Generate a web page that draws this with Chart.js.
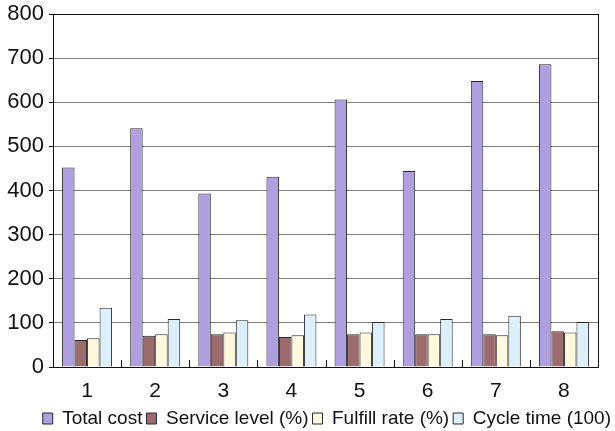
<!DOCTYPE html>
<html>
<head>
<meta charset="utf-8">
<script src="https://cdn.jsdelivr.net/npm/chart.js@4/dist/chart.umd.min.js"></script>
<style>
  html, body { margin: 0; padding: 0; background: #fff; }
  #wrap { width: 615px; height: 431px; position: relative; }
</style>
</head>
<body>
<div id="wrap"><canvas id="c"></canvas></div>
<script>
// Scenario indices
const categories = ['1', '2', '3', '4', '5', '6', '7', '8'];

// Series values per scenario
const totalCost    = [452, 541, 393, 431, 606, 444, 648, 686];
const serviceLevel = [61, 71, 74, 68, 74, 74, 74, 81];
const fulfillRate  = [65, 74, 78, 72, 78, 74, 72, 78];
const cycleTime    = [134, 109, 106, 119, 102, 109, 116, 102];

// Value axis
const yTicks = [0, 100, 200, 300, 400, 500, 600, 700, 800];

const FONT = 'Liberation Sans, Arial, Helvetica, sans-serif';

// Short inner tick marks between categories on the bottom axis
const catTicks = {
  id: 'catTicks',
  afterDraw(chart) {
    const { ctx, chartArea: a } = chart;
    const n = categories.length;
    const step = (a.right - a.left) / n;
    ctx.save();
    ctx.strokeStyle = '#111';
    ctx.lineWidth = 1;
    ctx.beginPath();
    for (let i = 1; i < n; i++) {
      const px = Math.round(a.left + step * i) + 0.5;
      ctx.moveTo(px, a.bottom);
      ctx.lineTo(px, a.bottom - 7);
    }
    ctx.stroke();
    ctx.restore();
  }
};

const common = { borderColor: '#2a2a2a', borderWidth: 1, categoryPercentage: 0.734, barPercentage: 1.0 };

new Chart(document.getElementById('c'), {
  type: 'bar',
  data: {
    labels: categories,
    datasets: [
      { label: 'Total cost', data: totalCost, backgroundColor: '#ad9fe0', ...common },
      { label: 'Service level (%)', data: serviceLevel, backgroundColor: '#9c6b6d', ...common },
      { label: 'Fulfill rate (%)', data: fulfillRate, backgroundColor: '#fff8dc', ...common },
      { label: 'Cycle time (100)', data: cycleTime, backgroundColor: '#dcf0fb', ...common }
    ]
  },
  options: {
    responsive: true,
    maintainAspectRatio: false,
    animation: false,
    devicePixelRatio: 1,
    layout: { padding: { left: 0, right: 0, top: 14, bottom: -7 } },
    plugins: {
      tooltip: { enabled: false },
      title: { display: false },
      legend: {
        position: 'bottom',
        align: 'end',
        labels: {
          font: { family: FONT, size: 19 },
          color: '#111',
          boxWidth: 10,
          boxHeight: 11,
          padding: 4
        }
      }
    },
    scales: {
      x: {
        grid: { display: false, drawTicks: false },
        border: { display: true, color: '#111', width: 1 },
        ticks: { font: { family: FONT, size: 21 }, color: '#111', padding: 12 },
        afterFit(s) { s.height = 38; }
      },
      y: {
        min: 0,
        max: 800,
        afterBuildTicks(s) { s.ticks = yTicks.map(v => ({ value: v })); },
        grid: {
          color: ctx => (ctx.tick && ctx.tick.value === 800 ? '#111' : '#7f7f7f'),
          tickColor: '#111',
          tickLength: 4,
          lineWidth: 1
        },
        border: { display: true, color: '#111', width: 1 },
        ticks: { font: { family: FONT, size: 22 }, color: '#111', padding: 5 },
        afterFit(s) { s.width = 53; s.paddingTop = 0; s.paddingBottom = 0; }
      },
      // right-hand frame edge
      yRight: {
        position: 'right',
        min: 0,
        max: 800,
        grid: { display: false, drawTicks: false },
        ticks: { display: false },
        border: { display: true, color: '#111', width: 1 },
        afterFit(s) { s.width = 17; s.paddingTop = 0; s.paddingBottom = 0; }
      }
    }
  },
  plugins: [catTicks]
});
</script>
</body>
</html>
